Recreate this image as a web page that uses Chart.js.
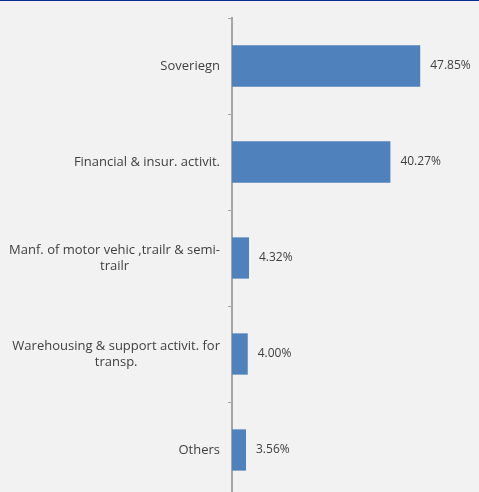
<!DOCTYPE html>
<html>
<head>
<meta charset="utf-8">
<script src="https://cdn.jsdelivr.net/npm/chart.js@4"></script>
<style>
    html, body { margin: 0; padding: 0; background: #F2F2F2; overflow: hidden; }
    #wrap { width: 479px; height: 492px; overflow: hidden; position: relative; border-top: 1px solid #0A2E8F; box-sizing: border-box; }
    #wrap canvas { position: absolute; top: -1px; left: 0; }
</style>
</head>
<body>
<div id="wrap">
    <canvas id="sectorChart" width="479" height="498"></canvas>
</div>
<script>
const categories = [
    ['Soveriegn'],
    ['Financial & insur. activit.'],
    ['Manf. of motor vehic ,trailr & semi-', 'trailr'],
    ['Warehousing & support activit. for', 'transp.'],
    ['Others']
];
const shares = [47.85, 40.27, 4.32, 4.00, 3.56];

const textColor = '#3F3F3F';
const fontFamily = '"Open Sans", sans-serif';

// category labels: block right-aligned, lines centred inside it (like Excel)
const categoryLabels = {
    id: 'categoryLabels',
    afterDraw(chart) {
        const ctx = chart.ctx;
        const yScale = chart.scales.y;
        const right = yScale.right - 12;
        ctx.save();
        ctx.font = '13px ' + fontFamily;
        ctx.fillStyle = textColor;
        ctx.textAlign = 'center';
        ctx.textBaseline = 'middle';
        categories.forEach(function (lines, i) {
            const w = Math.max.apply(null, lines.map(l => ctx.measureText(l).width));
            const cy = yScale.getPixelForTick(i);
            const lh = 16;
            const top = cy - (lines.length - 1) * lh / 2;
            lines.forEach(function (line, j) {
                ctx.fillText(line, right - w / 2, top + j * lh);
            });
        });
        ctx.restore();
    }
};

// value labels to the right of each bar
const valueLabels = {
    id: 'valueLabels',
    afterDatasetsDraw(chart) {
        const ctx = chart.ctx;
        const meta = chart.getDatasetMeta(0);
        ctx.save();
        ctx.font = '12px ' + fontFamily;
        ctx.fillStyle = textColor;
        ctx.textAlign = 'left';
        ctx.textBaseline = 'middle';
        meta.data.forEach(function (bar, i) {
            ctx.fillText(shares[i].toFixed(2) + '%', bar.x + 10, bar.y);
        });
        ctx.restore();
    }
};

const ctx = document.getElementById('sectorChart').getContext('2d');

const sectorChart = new Chart(ctx, {
    type: 'bar',
    data: {
        labels: categories.map(l => l.join(' ')),
        datasets: [{
            label: 'Share',
            data: shares,
            backgroundColor: '#4F81BD',
            borderWidth: 0,
            barPercentage: 0.43,
            categoryPercentage: 1.0
        }]
    },
    options: {
        indexAxis: 'y',
        responsive: false,
        animation: false,
        layout: {
            padding: { top: 18, right: 11, bottom: 0, left: 0 }
        },
        plugins: {
            legend: { display: false },
            tooltip: { enabled: false }
        },
        scales: {
            x: {
                display: false,
                min: 0,
                max: 60
            },
            y: {
                afterFit(scale) { scale.width = 232; },
                ticks: { display: false },
                grid: {
                    offset: true,
                    drawOnChartArea: false,
                    drawTicks: true,
                    tickLength: 4,
                    color: '#A6A6A6',
                    lineWidth: 1
                },
                border: { display: true, color: '#A6A6A6', width: 2 }
            }
        }
    },
    plugins: [categoryLabels, valueLabels]
});
</script>
</body>
</html>
